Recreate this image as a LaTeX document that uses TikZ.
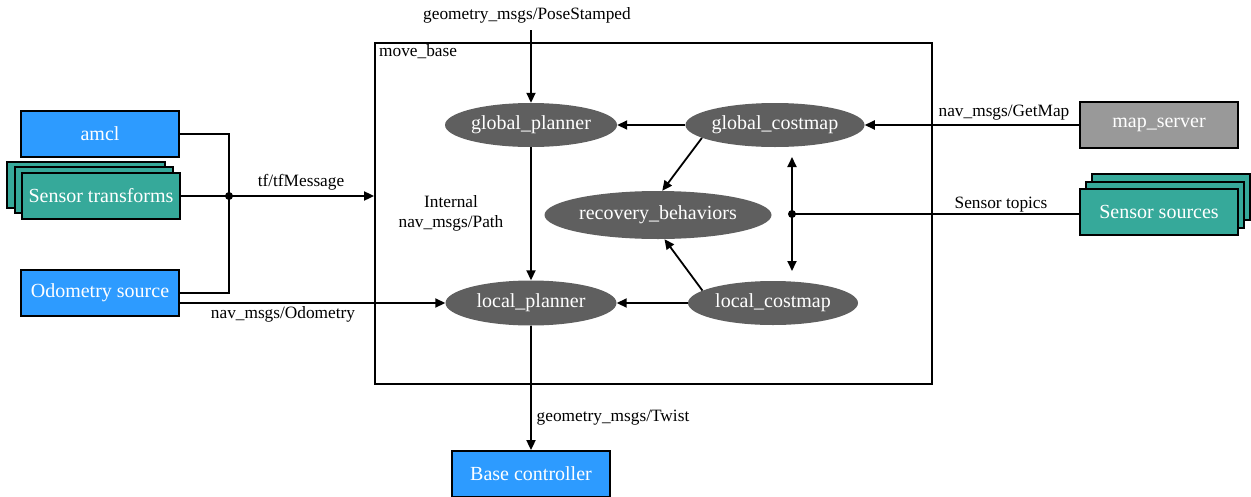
\documentclass[tikz,border=0pt]{standalone}
\usepackage{fontspec}
\setmainfont{Liberation Serif}
\usetikzlibrary{arrows.meta,shapes.geometric}
\definecolor{bluebox}{RGB}{45,155,255}
\definecolor{tealbox}{RGB}{54,169,154}
\definecolor{graybox}{RGB}{153,153,153}
\definecolor{ellfill}{RGB}{95,95,95}
\begin{document}
\begin{tikzpicture}[x=1pt,y=-1pt,
  box/.style={draw=black, line width=1.8pt, minimum width=158pt, minimum height=46pt, inner sep=0pt, text=white, font=\fontsize{20}{22}\selectfont},
  ell/.style={ellipse, fill=ellfill, draw=none, inner sep=0pt, text=white, font=\fontsize{20}{22}\selectfont},
  lbl/.style={font=\fontsize{17.3}{20}\selectfont, inner sep=1pt},
  conn/.style={line width=1.8pt},
  arr/.style={line width=1.8pt, -{Triangle[length=10pt,width=9pt]}},
  darr/.style={line width=1.8pt, {Triangle[length=10pt,width=9pt]}-{Triangle[length=10pt,width=9pt]}},
  dot/.style={circle, fill=black, inner sep=0pt, minimum size=8pt}]
\useasboundingbox (0,0) rectangle (1251,496);

% move_base frame
\node[draw, line width=1.8pt, minimum width=557pt, minimum height=341pt, inner sep=0pt] (mb) at (653.5,213.5) {};
\node[lbl, anchor=north west] (mbl) at (378,43) {move\_base};

% left boxes
\node[box, fill=bluebox] (amcl) at (100,134) {amcl};
\node[box, fill=tealbox] (st3) at (86,185) {};
\node[box, fill=tealbox] (st2) at (94,190) {};
\node[box, fill=tealbox] (st1) at (101,196) {Sensor transforms};
\node[box, fill=bluebox] (odom) at (100,293) {Odometry source};

% right boxes
\node[box, fill=graybox] (ms) at (1159,125) {map\_server};
\node[box, fill=tealbox] (ss3) at (1171,197) {};
\node[box, fill=tealbox] (ss2) at (1165,205) {};
\node[box, fill=tealbox] (ss1) at (1159,212) {Sensor sources};

% bottom box
\node[box, fill=bluebox] (bc) at (531,474) {Base controller};

% ellipses
\node[ell, minimum width=172pt, minimum height=44pt] (gp) at (531,125) {global\_planner};
\node[ell, minimum width=174pt, minimum height=44pt] (gc) at (775,125) {global\_costmap};
\node[ell, minimum width=227pt, minimum height=48pt] (rb) at (658,215) {recovery\_behaviors};
\node[ell, minimum width=171pt, minimum height=45pt] (lp) at (531,303) {local\_planner};
\node[ell, minimum width=170pt, minimum height=44pt] (lc) at (773,303) {local\_costmap};

% tf junction
\coordinate (jt) at (229,196);
\draw[conn] (amcl.east) -| (jt);
\draw[conn] (odom.east) -| (jt);
\draw[conn] (st1.east) -- (jt);
\draw[arr] (jt) -- (jt -| mb.west);
\node[dot] (jtd) at (jt) {};
\node[lbl] (tfl) at (301,182) {tf/tfMessage};

% odometry
\draw[arr] (odom.east |- lp.west) -- (lp.west);
\node[lbl] (odl) at (283,314) {nav\_msgs/Odometry};

% goal
\coordinate (ps) at (531,30);
\draw[arr] (ps) -- (gp.north);
\node[lbl] (psl) at (527,15) {geometry\_msgs/PoseStamped};

% internal
\draw[arr] (gc.west) -- (gp.east);
\draw[arr] (gp.south) -- (lp.north);
\node[lbl, align=center] (ipl) at (451,213) {Internal\\nav\_msgs/Path};
\draw[arr] (lc.west) -- (lp.east);
\draw[arr] (gc.190) -- (rb.80);
\draw[arr] (lc.170) -- (rb.285);

% sensor topics
\coordinate (stc) at (792,214);
\coordinate (stt) at (792,157);
\coordinate (stb) at (792,271);
\draw[darr] (stt) -- (stb);
\draw[conn] (stc) -- (stc -| ss1.west);
\node[dot] (stcd) at (stc) {};
\node[lbl] (stl) at (1001,205) {Sensor topics};

% map
\draw[arr] (ms.west) -- (gc.east);
\node[lbl] (gml) at (1004,113) {nav\_msgs/GetMap};

% cmd
\draw[arr] (lp.south) -- (bc.north);
\node[lbl] (twl) at (613,418) {geometry\_msgs/Twist};
\end{tikzpicture}
\end{document}
